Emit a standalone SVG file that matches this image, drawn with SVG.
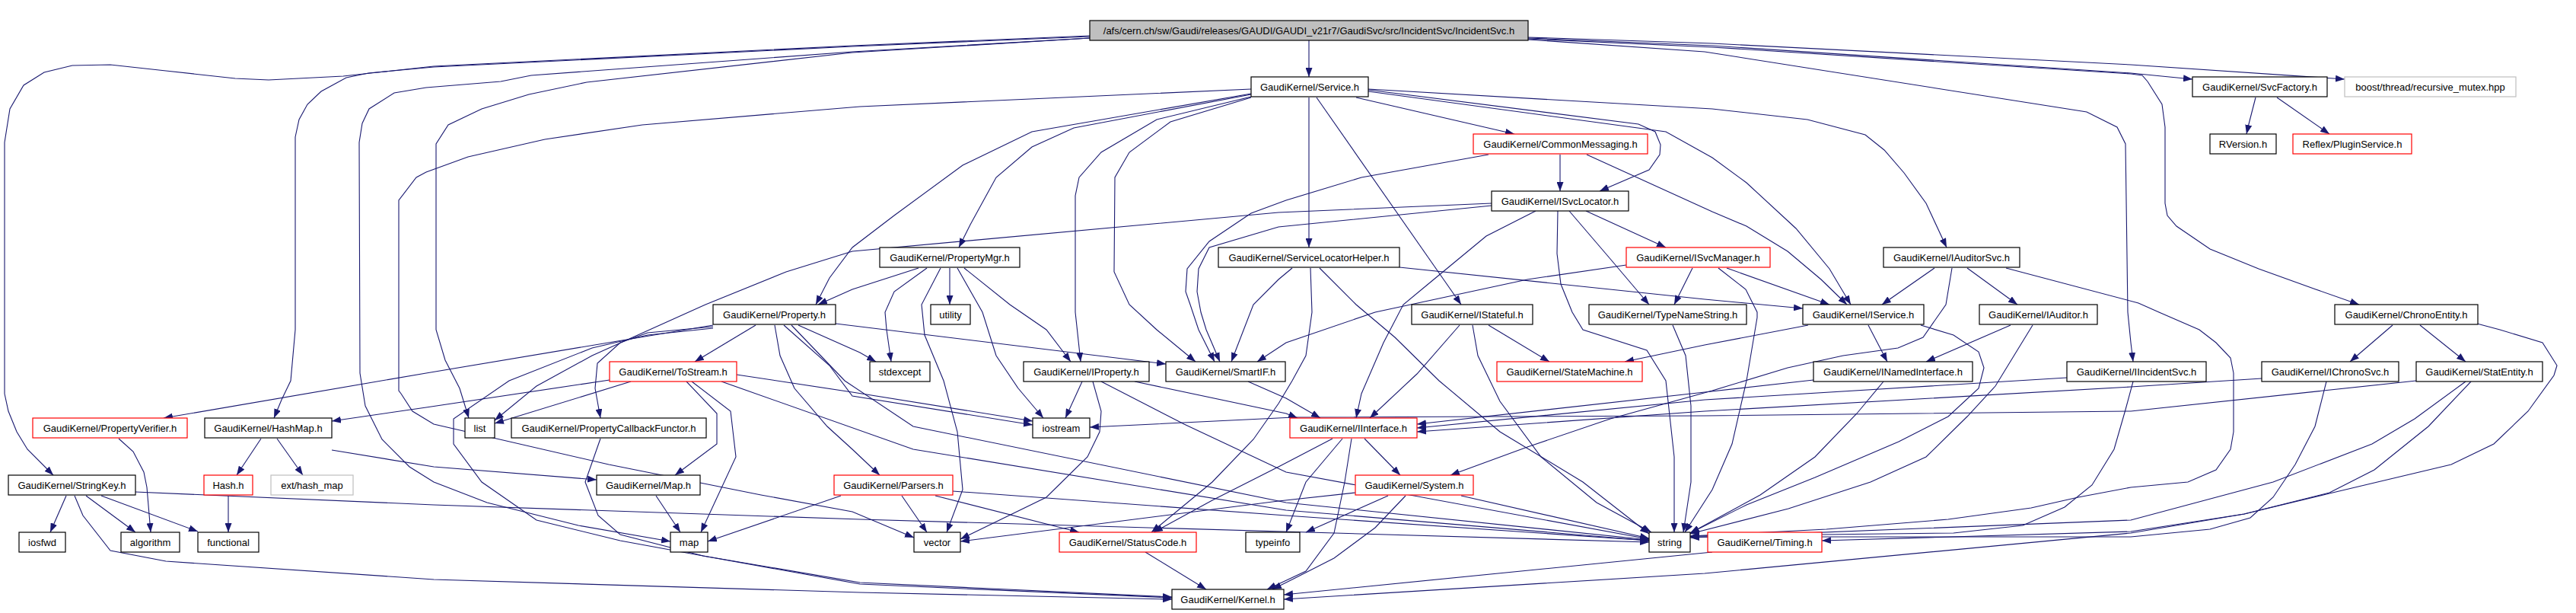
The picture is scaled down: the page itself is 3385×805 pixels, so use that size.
<svg xmlns="http://www.w3.org/2000/svg" width="3385" height="805" viewBox="0 0 3385 805">
<defs>
<marker id="arr" markerUnits="userSpaceOnUse" markerWidth="13" markerHeight="9" refX="12" refY="4.5" orient="auto"><path d="M0,0 L12,4.5 L0,9 z" fill="#191970"/></marker>
<style>
.n rect{fill:#fff;stroke:#000;stroke-width:1.2}
.r rect{stroke:#ff0000}
.g rect{stroke:#bfbfbf}
.root rect{fill:#bfbfbf}
text{font-family:"Liberation Sans",Arial,sans-serif;font-size:13px;text-anchor:middle;fill:#000}
#edges path{fill:none;stroke:#191970;stroke-width:1.1;marker-end:url(#arr)}
</style>
</defs>
<rect width="3385" height="805" fill="#fff"/>
<g id="edges">
<path d="M1720,53 L1720,101"/>
<path d="M2008,50 L2250,60 L2800,96 L2881,104"/>
<path d="M2008,49 L2250,57 L2800,85 L3081,104"/>
<path d="M2008,52 L2240,68 L2742,147 L2782,167 L2793,189 L2796,410 L2800,450 L2803,475"/>
<path d="M2008,51 L2250,62 L2800,97 L2815,99 L2822,107 L2841,137 L2845,167 L2845,267 L2848,283 L2860,297 L2904,327 L2968,353 L3043,380 L3100,400"/>
<path d="M1432,47 L1120,60 L570,87 L451,100 L353,105 L309,103 L218,93 L145,85 L95,86 L58,95 L31,112 L13,143 L6,187 L6,517 L11,540 L22,567 L36,590 L70,624"/>
<path d="M1432,48 L1120,61 L570,88 L484,96 L455,102 L422,120 L404,137 L393,157 L388,180 L388,433 L382,500 L370,525 L360,549"/>
<path d="M1432,50 L1120,68 L698,99 L658,107 L560,115 L518,122 L485,143 L476,162 L472,187 L473,490 L480,533 L502,577 L538,613 L570,633 L640,660 L760,690 L881,711"/>
<path d="M1432,50 L1120,69 L771,108 L695,124 L633,143 L589,164 L573,189 L573,433 L585,473 L604,510 L616,549"/>
<path d="M1782,128 L1990,176"/>
<path d="M1798,118 L2153,163 L2175,173 L2182,190 L2181,203 L2167,223 L2102,251"/>
<path d="M1798,120 L2189,173 L2250,207 L2295,240 L2360,300 L2404,353 L2432,400"/>
<path d="M1798,117 L2250,143 L2375,157 L2451,177 L2476,197 L2502,227 L2531,267 L2558,325"/>
<path d="M1730,128 L1920,400"/>
<path d="M1720,128 L1720,325"/>
<path d="M1644,124 L1411,168 L1356,193 L1309,233 L1275,295 L1260,325"/>
<path d="M1644,123 L1356,173 L1265,217 L1175,283 L1120,325 L1090,365 L1072,400"/>
<path d="M1644,127 L1520,157 L1447,200 L1418,233 L1413,257 L1413,410 L1420,475"/>
<path d="M1644,128 L1538,160 L1484,200 L1465,233 L1464,357 L1484,400 L1520,433 L1571,475"/>
<path d="M1644,117 L1130,140 L844,164 L716,183 L615,206 L560,226 L547,233 L524,263 L524,513 L527,517 L542,540 L570,557 L800,610 L1000,650 L1120,672 L1201,706"/>
<path d="M2964,128 L2955,163 L2952,176"/>
<path d="M2992,128 L3061,176"/>
<path d="M2050,203 L2050,251"/>
<path d="M1956,203 L1789,233 L1690,263 L1644,280 L1589,317 L1560,353 L1558,383 L1564,400 L1575,433 L1596,475"/>
<path d="M2085,203 L2250,278 L2295,297 L2349,330 L2393,367 L2427,400"/>
<path d="M1960,267 L1680,279 L1120,330 L1033,357 L927,400 L778,467 L705,507 L650,552"/>
<path d="M1960,270 L1680,298 L1589,325 L1575,353 L1573,383 L1578,410 L1585,433 L1603,475"/>
<path d="M2018,277 L1953,310 L1884,367 L1844,400 L1818,450 L1789,517 L1782,549"/>
<path d="M2047,277 L2046,333 L2051,373 L2066,410 L2080,433 L2164,460 L2189,500 L2200,600 L2200,699"/>
<path d="M2062,277 L2116,340 L2167,400"/>
<path d="M2084,277 L2189,325"/>
<path d="M1207,352 L1120,380 L1075,400"/>
<path d="M1218,352 L1175,383 L1163,410 L1165,433 L1171,475"/>
<path d="M1236,352 L1211,400 L1215,440 L1240,500 L1258,567 L1265,643 L1244,699"/>
<path d="M1248,352 L1248,400"/>
<path d="M1258,352 L1291,410 L1309,467 L1338,510 L1371,549"/>
<path d="M1267,352 L1327,400 L1375,433 L1407,475"/>
<path d="M1698,352 L1680,367 L1647,400 L1618,475"/>
<path d="M1722,352 L1724,410 L1716,467 L1698,500 L1680,530 L1647,577 L1593,633 L1513,699"/>
<path d="M1734,352 L1782,400 L1833,443 L1891,500 L1971,567 L2080,633 L2167,701"/>
<path d="M1839,351 L2240,393 L2369,405"/>
<path d="M2137,348 L2007,367 L1807,410 L1690,450 L1652,475"/>
<path d="M2224,352 L2200,400"/>
<path d="M2258,352 L2294,380 L2309,410 L2309,417 L2295,500 L2276,583 L2250,643 L2214,699"/>
<path d="M2269,352 L2404,400"/>
<path d="M2542,352 L2473,400"/>
<path d="M2565,352 L2557,400 L2527,443 L2494,457 L2422,467 L2349,483 L2250,513 L2116,550 L2007,587 L1906,624"/>
<path d="M2585,352 L2651,400"/>
<path d="M2636,352 L2810,398 L2837,410 L2890,433 L2912,450 L2931,470 L2935,490 L2935,567 L2931,590 L2912,617 L2875,633 L2800,640 L2731,653 L2669,667 L2560,682 L2400,695 L2221,704"/>
<path d="M2642,427 L2531,475"/>
<path d="M2671,427 L2622,507 L2585,547 L2531,600 L2458,633 L2350,668 L2221,701"/>
<path d="M2455,427 L2480,475"/>
<path d="M2376,427 L2240,453 L2135,475"/>
<path d="M2524,427 L2567,440 L2600,462 L2607,483 L2600,510 L2560,547 L2495,580 L2385,627 L2295,663 L2221,700"/>
<path d="M2383,499 L2240,515 L1862,557"/>
<path d="M2475,501 L2440,543 L2385,600 L2313,650 L2221,700"/>
<path d="M2716,496 L2240,525 L1862,562"/>
<path d="M2803,501 L2793,538 L2778,590 L2749,637 L2713,666 L2658,690 L2567,700 L2221,704"/>
<path d="M2972,497 L2800,508 L2240,540 L1862,567"/>
<path d="M3057,501 L3042,560 L3016,610 L2987,653 L2957,680 L2904,695 L2800,705 L2221,705"/>
<path d="M3175,500 L2800,540 L2240,546 L1700,548 L1432,561"/>
<path d="M3240,501 L3173,550 L3117,583 L2987,633 L2800,683 L2221,706"/>
<path d="M3247,501 L3191,560 L3120,617 L3061,647 L2949,675 L2800,700 L2240,753 L1687,787"/>
<path d="M3144,427 L3088,475"/>
<path d="M3180,427 L3240,475"/>
<path d="M3255,425 L3285,433 L3341,450 L3360,480 L3356,493 L3322,540 L3277,583 L3221,610 L3061,648 L2949,675 L2800,698 L2394,710"/>
<path d="M87,651 L66,699"/>
<path d="M113,651 L178,699"/>
<path d="M133,651 L260,698"/>
<path d="M98,651 L109,677 L145,723 L218,737 L570,761 L1130,778 L1540,787"/>
<path d="M178,646 L570,663 L1130,682 L2167,712"/>
<path d="M156,576 L175,593 L189,620 L193,640 L198,699"/>
<path d="M343,576 L311,624"/>
<path d="M364,576 L398,624"/>
<path d="M436,591 L570,613 L784,630"/>
<path d="M300,651 L300,699"/>
<path d="M937,427 L560,490 L215,549"/>
<path d="M937,429 L851,437 L815,450 L785,477 L782,510 L789,549"/>
<path d="M993,427 L913,475"/>
<path d="M1018,427 L1025,467 L1044,510 L1087,560 L1120,590 L1156,624"/>
<path d="M1049,427 L1130,463 L1151,475"/>
<path d="M1098,425 L1532,478"/>
<path d="M937,431 L851,440 L778,457 L669,500 L596,550 L596,583 L633,633 L705,683 L815,710 L924,730 L1130,765 L1540,784"/>
<path d="M1030,427 L1090,480 L1120,520 L1357,558"/>
<path d="M1040,427 L1110,500 L1200,560 L1690,660 L2167,709"/>
<path d="M829,501 L650,556"/>
<path d="M801,499 L560,535 L436,553"/>
<path d="M902,501 L942,543 L942,583 L887,624"/>
<path d="M909,501 L960,540 L967,600 L921,699"/>
<path d="M968,492 L1120,515 L1357,553"/>
<path d="M948,501 L1200,590 L1690,670 L2167,710"/>
<path d="M789,576 L769,633 L786,677 L815,702 L924,730 L1130,767 L1540,785"/>
<path d="M862,651 L894,699"/>
<path d="M1105,651 L930,711"/>
<path d="M1185,651 L1218,699"/>
<path d="M1229,651 L1418,699"/>
<path d="M1252,645 L1690,677 L2167,710"/>
<path d="M1781,647 L1680,658 L1262,711"/>
<path d="M1824,651 L1716,699"/>
<path d="M1847,651 L1807,693 L1753,733 L1700,760 L1672,774"/>
<path d="M1920,651 L2167,707"/>
<path d="M1793,576 L1840,624"/>
<path d="M1776,576 L1767,633 L1753,700 L1716,750 L1665,774"/>
<path d="M1764,576 L1716,633 L1690,699"/>
<path d="M1751,576 L1680,613 L1593,657 L1516,699"/>
<path d="M1505,725 L1585,774"/>
<path d="M2250,725 L1687,781"/>
<path d="M1422,501 L1400,549"/>
<path d="M1436,501 L1447,540 L1445,567 L1429,600 L1375,653 L1262,708"/>
<path d="M1491,501 L1690,543 L1705,549"/>
<path d="M1447,501 L1556,557 L1690,620 L2167,708"/>
<path d="M1640,501 L1690,523 L1735,549"/>
<path d="M1918,427 L1862,491 L1800,549"/>
<path d="M1935,427 L1942,467 L1971,527 L2025,600 L2098,660 L2170,699"/>
<path d="M1956,427 L2036,475"/>
<path d="M2198,427 L2215,467 L2222,533 L2222,633 L2212,699"/>
</g>
<g id="node-root" class="n root"><rect x="1432" y="27" width="576" height="26"/><text x="1720" y="44.5">/afs/cern.ch/sw/Gaudi/releases/GAUDI/GAUDI_v21r7/GaudiSvc/src/IncidentSvc/IncidentSvc.h</text></g>
<g id="node-service" class="n"><rect x="1644" y="101" width="154" height="26"/><text x="1721" y="118.5">GaudiKernel/Service.h</text></g>
<g id="node-svcfactory" class="n"><rect x="2881" y="101" width="177" height="26"/><text x="2969.5" y="118.5">GaudiKernel/SvcFactory.h</text></g>
<g id="node-boost" class="n g"><rect x="3081" y="101" width="225" height="26"/><text x="3193.5" y="118.5">boost/thread/recursive_mutex.hpp</text></g>
<g id="node-commonmsg" class="n r"><rect x="1936" y="176" width="229" height="26"/><text x="2050.5" y="193.5">GaudiKernel/CommonMessaging.h</text></g>
<g id="node-rversion" class="n"><rect x="2904" y="176" width="87" height="26"/><text x="2947.5" y="193.5">RVersion.h</text></g>
<g id="node-plugin" class="n r"><rect x="3013" y="176" width="156" height="26"/><text x="3091" y="193.5">Reflex/PluginService.h</text></g>
<g id="node-isvclocator" class="n"><rect x="1960" y="251" width="180" height="26"/><text x="2050" y="268.5">GaudiKernel/ISvcLocator.h</text></g>
<g id="node-propertymgr" class="n"><rect x="1156" y="325" width="184" height="26"/><text x="1248" y="342.5">GaudiKernel/PropertyMgr.h</text></g>
<g id="node-slh" class="n"><rect x="1601" y="325" width="238" height="26"/><text x="1720" y="342.5">GaudiKernel/ServiceLocatorHelper.h</text></g>
<g id="node-isvcmanager" class="n r"><rect x="2137" y="325" width="189" height="26"/><text x="2231.5" y="342.5">GaudiKernel/ISvcManager.h</text></g>
<g id="node-iauditorsvc" class="n"><rect x="2475" y="325" width="179" height="26"/><text x="2564.5" y="342.5">GaudiKernel/IAuditorSvc.h</text></g>
<g id="node-property" class="n"><rect x="937" y="400" width="161" height="26"/><text x="1017.5" y="417.5">GaudiKernel/Property.h</text></g>
<g id="node-utility" class="n"><rect x="1223" y="400" width="52" height="26"/><text x="1249" y="417.5">utility</text></g>
<g id="node-istateful" class="n"><rect x="1855" y="400" width="159" height="26"/><text x="1934.5" y="417.5">GaudiKernel/IStateful.h</text></g>
<g id="node-typenamestring" class="n"><rect x="2088" y="400" width="207" height="26"/><text x="2191.5" y="417.5">GaudiKernel/TypeNameString.h</text></g>
<g id="node-iservice" class="n"><rect x="2369" y="400" width="159" height="26"/><text x="2448.5" y="417.5">GaudiKernel/IService.h</text></g>
<g id="node-iauditor" class="n"><rect x="2601" y="400" width="155" height="26"/><text x="2678.5" y="417.5">GaudiKernel/IAuditor.h</text></g>
<g id="node-chronoentity" class="n"><rect x="3068" y="400" width="188" height="26"/><text x="3162" y="417.5">GaudiKernel/ChronoEntity.h</text></g>
<g id="node-tostream" class="n r"><rect x="801" y="475" width="167" height="26"/><text x="884.5" y="492.5">GaudiKernel/ToStream.h</text></g>
<g id="node-stdexcept" class="n"><rect x="1143" y="475" width="79" height="26"/><text x="1182.5" y="492.5">stdexcept</text></g>
<g id="node-iproperty" class="n"><rect x="1345" y="475" width="165" height="26"/><text x="1427.5" y="492.5">GaudiKernel/IProperty.h</text></g>
<g id="node-smartif" class="n"><rect x="1532" y="475" width="157" height="26"/><text x="1610.5" y="492.5">GaudiKernel/SmartIF.h</text></g>
<g id="node-statemachine" class="n r"><rect x="1967" y="475" width="191" height="26"/><text x="2062.5" y="492.5">GaudiKernel/StateMachine.h</text></g>
<g id="node-inamedinterface" class="n"><rect x="2383" y="475" width="209" height="26"/><text x="2487.5" y="492.5">GaudiKernel/INamedInterface.h</text></g>
<g id="node-iincidentsvc" class="n"><rect x="2716" y="475" width="183" height="26"/><text x="2807.5" y="492.5">GaudiKernel/IIncidentSvc.h</text></g>
<g id="node-ichronosvc" class="n"><rect x="2972" y="475" width="180" height="26"/><text x="3062" y="492.5">GaudiKernel/IChronoSvc.h</text></g>
<g id="node-statentity" class="n"><rect x="3175" y="475" width="166" height="26"/><text x="3258" y="492.5">GaudiKernel/StatEntity.h</text></g>
<g id="node-propertyverifier" class="n r"><rect x="43" y="549" width="203" height="26"/><text x="144.5" y="566.5">GaudiKernel/PropertyVerifier.h</text></g>
<g id="node-hashmap" class="n"><rect x="269" y="549" width="167" height="26"/><text x="352.5" y="566.5">GaudiKernel/HashMap.h</text></g>
<g id="node-list" class="n"><rect x="611" y="549" width="39" height="26"/><text x="630.5" y="566.5">list</text></g>
<g id="node-propertycallbackfunctor" class="n"><rect x="672" y="549" width="256" height="26"/><text x="800" y="566.5">GaudiKernel/PropertyCallbackFunctor.h</text></g>
<g id="node-iostream" class="n"><rect x="1357" y="549" width="75" height="26"/><text x="1394.5" y="566.5">iostream</text></g>
<g id="node-iinterface" class="n r"><rect x="1695" y="549" width="167" height="26"/><text x="1778.5" y="566.5">GaudiKernel/IInterface.h</text></g>
<g id="node-stringkey" class="n"><rect x="11" y="624" width="167" height="26"/><text x="94.5" y="641.5">GaudiKernel/StringKey.h</text></g>
<g id="node-hash" class="n r"><rect x="268" y="624" width="64" height="26"/><text x="300" y="641.5">Hash.h</text></g>
<g id="node-exthashmap" class="n g"><rect x="356" y="624" width="108" height="26"/><text x="410" y="641.5">ext/hash_map</text></g>
<g id="node-maph" class="n"><rect x="784" y="624" width="136" height="26"/><text x="852" y="641.5">GaudiKernel/Map.h</text></g>
<g id="node-parsers" class="n r"><rect x="1096" y="624" width="156" height="26"/><text x="1174" y="641.5">GaudiKernel/Parsers.h</text></g>
<g id="node-system" class="n r"><rect x="1781" y="624" width="155" height="26"/><text x="1858.5" y="641.5">GaudiKernel/System.h</text></g>
<g id="node-iosfwd" class="n"><rect x="25" y="699" width="61" height="26"/><text x="55.5" y="716.5">iosfwd</text></g>
<g id="node-algorithm" class="n"><rect x="159" y="699" width="77" height="26"/><text x="197.5" y="716.5">algorithm</text></g>
<g id="node-functional" class="n"><rect x="260" y="699" width="80" height="26"/><text x="300" y="716.5">functional</text></g>
<g id="node-map" class="n"><rect x="881" y="699" width="49" height="26"/><text x="905.5" y="716.5">map</text></g>
<g id="node-vector" class="n"><rect x="1201" y="699" width="61" height="26"/><text x="1231.5" y="716.5">vector</text></g>
<g id="node-statuscode" class="n r"><rect x="1392" y="699" width="180" height="26"/><text x="1482" y="716.5">GaudiKernel/StatusCode.h</text></g>
<g id="node-typeinfo" class="n"><rect x="1637" y="699" width="71" height="26"/><text x="1672.5" y="716.5">typeinfo</text></g>
<g id="node-string" class="n"><rect x="2167" y="699" width="54" height="26"/><text x="2194" y="716.5">string</text></g>
<g id="node-timing" class="n r"><rect x="2244" y="699" width="150" height="26"/><text x="2319" y="716.5">GaudiKernel/Timing.h</text></g>
<g id="node-kernel" class="n"><rect x="1540" y="774" width="147" height="26"/><text x="1613.5" y="791.5">GaudiKernel/Kernel.h</text></g>
</svg>
